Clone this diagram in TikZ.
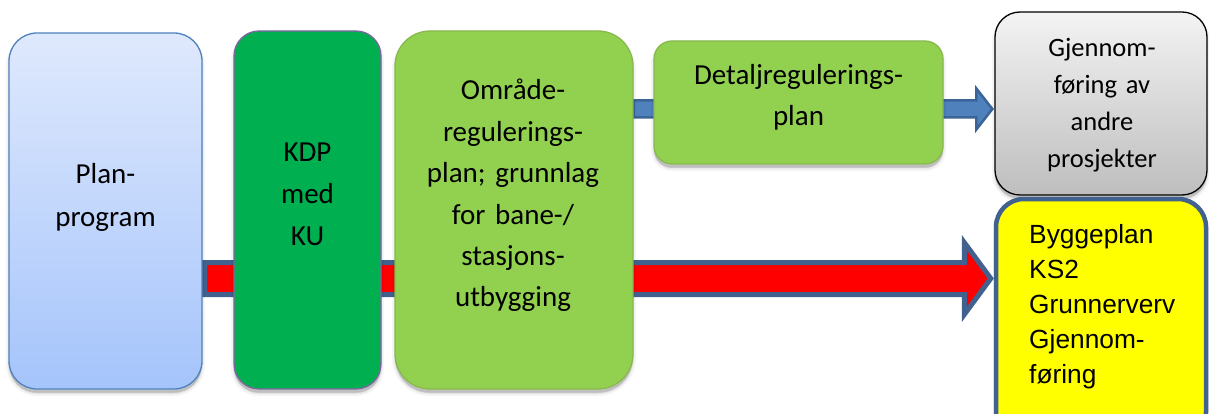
\documentclass[tikz,border=0pt]{standalone}
\usepackage{fontspec}
\setmainfont{Carlito}
\newfontfamily\arialfont{Liberation Sans}
\usetikzlibrary{calc}
\frenchspacing

\definecolor{planTop}{RGB}{223,233,253}
\definecolor{planBot}{RGB}{165,196,251}
\definecolor{planEdge}{RGB}{79,129,189}
\definecolor{kdpFill}{RGB}{0,176,80}
\definecolor{kdpEdge}{RGB}{128,100,162}
\definecolor{regFill}{RGB}{146,208,80}
\definecolor{regEdge}{RGB}{136,184,78}
\definecolor{grayTop}{RGB}{243,243,243}
\definecolor{grayBot}{RGB}{190,190,190}
\definecolor{arrowEdge}{RGB}{65,97,143}
\definecolor{arrowBlue}{RGB}{79,129,189}
\definecolor{arrowDark}{RGB}{60,100,150}
\definecolor{byggEdge}{RGB}{65,97,143}
\definecolor{byggFill}{RGB}{255,255,0}

\pgfdeclarelayer{behind}
\pgfsetlayers{behind,main}

\begin{document}
\begin{tikzpicture}[x=1pt,y=-1pt,
  softshadow/.style={
    preaction={fill=black, fill opacity=.07, draw=black, draw opacity=.04,
      line width=6pt, transform canvas={yshift=-4pt}},
    preaction={fill=black, fill opacity=.07, draw=black, draw opacity=.05,
      line width=2.5pt, transform canvas={yshift=-4pt}},
    preaction={fill=black, fill opacity=.08, transform canvas={yshift=-3pt}}},
  stage/.style={rectangle, rounded corners=#1, inner sep=0pt, softshadow},
  caption/.style={anchor=base, inner sep=0pt, align=center, text width=#1},
  redarrow/.style={fill=red, draw=arrowEdge, line width=5pt, line join=miter},
  bluearrow/.style={fill=arrowBlue, draw=arrowDark, line width=2.5pt, line join=miter}
]
\clip (0,0) rectangle (1209,414);
\begin{pgfonlayer}{behind}
\fill[white] (0,0) rectangle (1209,414);
\end{pgfonlayer}

% stage boxes
\path
  node[stage=28pt, draw=planEdge, line width=1.3pt, top color=planTop, bottom color=planBot,
       minimum width=193pt, minimum height=356pt] (plan) at (105.5,211) {}
  node[stage=25pt, draw=kdpEdge, line width=1.3pt, fill=kdpFill,
       minimum width=147pt, minimum height=358pt] (kdp) at (307.5,210) {}
  node[stage=35pt, draw=regEdge, line width=1.3pt, fill=regFill,
       minimum width=238pt, minimum height=358pt] (omr) at (514,210) {}
  node[stage=18pt, draw=regEdge, line width=1.3pt, fill=regFill,
       minimum width=289pt, minimum height=123pt] (det) at (798.5,102.5) {}
  node[stage=25pt, draw=black, line width=1.3pt, top color=grayTop, bottom color=grayBot,
       minimum width=212pt, minimum height=183pt] (gjen) at (1101,103.5) {}
  node[stage=28pt, draw=byggEdge, line width=4.5pt, fill=byggFill,
       minimum width=210pt, minimum height=241pt] (bygg) at (1101,319.5) {};

% box texts
\node[caption=180pt, font=\fontsize{29}{43}\selectfont] (planT) at (105.5,184) {Plan-\\program};
\node[caption=140pt, font=\fontsize{29}{42}\selectfont] (kdpT) at (307.5,162) {KDP\\med\\KU};
\node[caption=230pt, font=\fontsize{29}{41.4}\selectfont] (omrT) at (513,100)
  {Område-\\regulerings-\\plan; grunnlag\\for bane-/\\stasjons-\\utbygging};
\node[caption=280pt, font=\fontsize{29}{41}\selectfont] (detT) at (798.5,85) {Detaljregulerings-\\plan};
\node[caption=205pt, font=\fontsize{26.5}{37}\selectfont] (gjenT) at (1102,57)
  {Gjennom-\\føring av\\andre\\prosjekter};
\node[anchor=base west, inner sep=0pt, align=left, text width=170pt,
      font=\arialfont\fontsize{26.3}{35}\selectfont]
  (byggT) at (1029,243) {Byggeplan\\KS2\\Grunnerverv\\Gjennom-\\føring};

% block arrows, kept behind the boxes
\coordinate (rs) at (plan.east |- 0,278.5);
\coordinate (re) at (bygg.west |- 0,278.5);
\coordinate (bs) at (omr.east |- 0,109);
\coordinate (be) at (gjen.west |- 0,109);
\begin{pgfonlayer}{behind}
\draw[redarrow]
  ([xshift=2pt,yshift=16pt]rs) -- ([xshift=-29.5pt,yshift=16pt]re)
  -- ([xshift=-29.5pt,yshift=36pt]re) -- ([xshift=-3pt]re)
  -- ([xshift=-29.5pt,yshift=-36pt]re) -- ([xshift=-29.5pt,yshift=-16pt]re)
  -- ([xshift=2pt,yshift=-16pt]rs) -- cycle;
\draw[bluearrow]
  ([yshift=8.5pt]bs) -- ([xshift=-18pt,yshift=8.5pt]be)
  -- ([xshift=-18pt,yshift=20.5pt]be) -- ([xshift=-2pt]be)
  -- ([xshift=-18pt,yshift=-20.5pt]be) -- ([xshift=-18pt,yshift=-8.5pt]be)
  -- ([yshift=-8.5pt]bs) -- cycle;
\end{pgfonlayer}
\end{tikzpicture}
\end{document}
